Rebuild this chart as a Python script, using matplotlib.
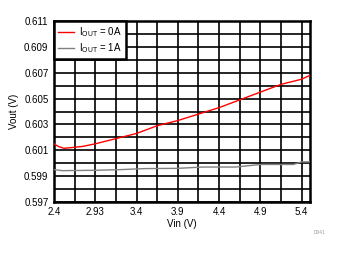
import matplotlib
matplotlib.use("Agg")
import matplotlib.pyplot as plt
import numpy as np

plt.rcParams['font.family'] = ['Liberation Sans', 'DejaVu Sans']

# Iout = 0A (red)
vin_0a = [2.4, 2.45, 2.52, 2.6, 2.75, 2.9, 3.15, 3.4, 3.65, 3.9, 4.15, 4.4, 4.65, 4.9, 5.15, 5.4, 5.5]
vout_0a = [0.6015, 0.6013, 0.60115, 0.6012, 0.6013, 0.6015, 0.6019, 0.6023, 0.6029, 0.6033,
           0.6038, 0.6043, 0.6049, 0.6055, 0.6061, 0.6065, 0.6068]

# Iout = 1A (gray)
vin_1a = [2.4, 2.5, 2.9, 3.2, 3.5, 3.9, 4.2, 4.6, 4.9, 5.3, 5.4, 5.5]
vout_1a = [0.5995, 0.59942, 0.59945, 0.5995, 0.59958, 0.5996, 0.5997, 0.5997, 0.5999, 0.5999,
           0.6001, 0.6001]

xtick_vals = [2.4, 2.9, 3.4, 3.9, 4.4, 4.9, 5.4]
xtick_labels = ['2.4', '2.93', '3.4', '3.9', '4.4', '4.9', '5.4']
ytick_vals = [0.597, 0.599, 0.601, 0.603, 0.605, 0.607, 0.609, 0.611]

fig = plt.figure(figsize=(3.42, 2.54), dpi=100)
ax = fig.add_axes([0.158, 0.205, 0.748, 0.712])

ax.plot(vin_0a, vout_0a, color='#ff0000', lw=1.0, label=r'I$_{\mathregular{OUT}}$ = 0A', zorder=3)
ax.plot(vin_1a, vout_1a, color='#808080', lw=1.0, label=r'I$_{\mathregular{OUT}}$ = 1A', zorder=3)

ax.set_xlim(2.4, 5.5)
ax.set_ylim(0.597, 0.611)
ax.set_xticks(np.arange(2.4, 5.5, 0.25), minor=True)
ax.set_yticks(np.arange(0.597, 0.6111, 0.001), minor=True)
ax.set_xticks(xtick_vals)
ax.set_xticklabels(xtick_labels)
ax.set_yticks(ytick_vals)
ax.set_yticklabels(['%.3f' % v for v in ytick_vals])
ax.grid(True, which='both', color='black', lw=1.2)
ax.tick_params(which='both', length=0, labelsize=7, pad=4)
for s in ax.spines.values():
    s.set_linewidth(1.8)

ax.set_xlabel('Vin (V)', fontsize=7, labelpad=1)
ax.set_ylabel('Vout (V)', fontsize=7, labelpad=4)

leg = ax.legend(loc='upper left', fontsize=7, frameon=True, fancybox=False,
                borderaxespad=0, handlelength=1.7, handletextpad=0.5,
                borderpad=0.4, labelspacing=0.3)
leg.get_frame().set_edgecolor('black')
leg.get_frame().set_linewidth(1.8)
leg.get_frame().set_alpha(1)

fig.text(0.935, 0.08, 'D041', fontsize=3.5, color='#999999', ha='center')

fig.savefig('out.png', dpi=100)
